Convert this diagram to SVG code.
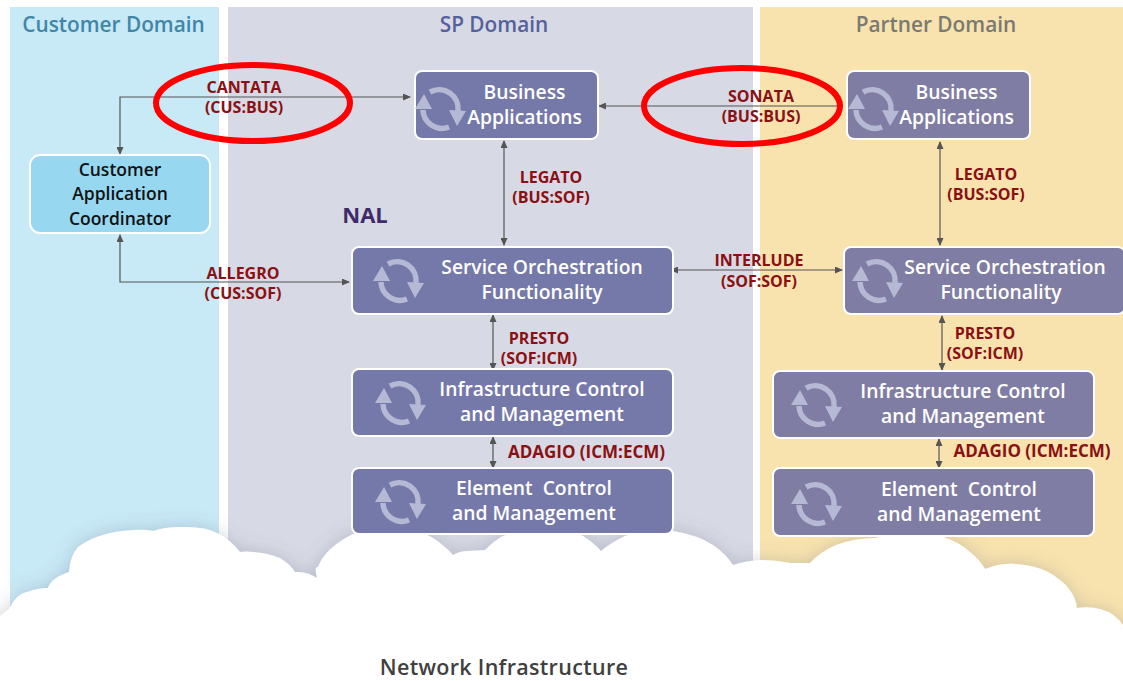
<svg xmlns="http://www.w3.org/2000/svg" width="1123" height="681" viewBox="0 0 1123 681">
<style>
text{font-family:"Open Sans","Liberation Sans",sans-serif;text-anchor:middle}
.dom{font-size:20.800px;font-weight:600}
.nt{font-size:19.300px;font-weight:600;fill:#fff}
.ct{font-size:17.500px;font-weight:600;fill:#111}
.lb{font-size:16px;font-weight:700;fill:#8a1014}
.ad{font-size:17px}
.n{fill:#7579a9;stroke:#fff;stroke-width:2}
.p{fill:#7f7da3;stroke:#fff;stroke-width:2}
.cn{fill:none;stroke:#555;stroke-width:1.200}
.red{fill:none;stroke:#f00;stroke-width:6}
</style>
<defs>
<marker id="a" markerWidth="8" markerHeight="7" refX="7" refY="3.500" orient="auto-start-reverse" markerUnits="userSpaceOnUse"><path d="M0 0L8 3.500L0 7Z" fill="#555"/></marker>
<symbol id="ic" overflow="visible">
<g fill="none" stroke="#b6b9d4" stroke-width="5.500"><path d="M-10 -16A19 19 0 0 1 18 3"/><path d="M9 19A19 19 0 0 1 -17 2"/></g>
<path d="M-16 -14L-25 1L-8 1ZM17 18L9 2L26 3Z" fill="#b6b9d4"/>
</symbol>
<filter id="sh" x="-5%" y="-20%" width="110%" height="130%"><feDropShadow dx="0" dy="0" stdDeviation="9" flood-color="#5d6480" flood-opacity=".28"/></filter>
</defs>
<rect width="1123" height="681" fill="#fff"/>
<g id="panels">
<rect x="10" y="7" width="209" height="615" fill="#c8e9f6"/>
<rect x="228" y="7" width="525" height="615" fill="#d7dae4"/>
<rect x="760" y="7" width="363" height="625" fill="#f8e3ae"/>
<text class="dom" x="113.500" y="32" fill="#3f86a8">Customer Domain</text>
<text class="dom" x="494" y="32" fill="#55609c">SP Domain</text>
<text class="dom" x="936" y="32" fill="#7a7a72">Partner Domain</text>
<text x="365" y="223" font-size="22" font-weight="700" style="fill:#3f2a6b">NAL</text>
</g>
<g id="cloud">
<path filter="url(#sh)" fill="#fff" d="M-12 681V625L9 609Q16 594 27 592Q38 588 48 588Q51 578 69 572Q70 556 78 547Q98 532 133 530Q145 529 153 531Q165 527 180 527Q205 526 217 533Q231 540 240 552Q247 551 253 552Q268 553 280 558Q290 564 295 572Q307 571 317 578Q314 566 318 567Q325 548 353 534Q365 528 380 528Q420 526 440 543Q449 550 453 555Q460 551 467 551L485 550Q495 540 503 536Q520 528 544 528Q568 528 583 536Q594 543 601 551Q612 542 625 536Q648 527 673 531Q698 535 713 545Q727 555 733 565Q745 561 760 560Q776 560 790 563L810 563Q820 552 836 545Q855 538 876 538Q888 534 900 535L940 536Q958 541 970 552Q980 560 985 569Q1000 563 1016 564Q1042 566 1056 577Q1075 590 1077 608Q1090 606 1100 609Q1115 613 1123 625L1140 640V681Z"/>
</g>
<g id="connectors">
<path class="cn" d="M410 97H120V154" marker-start="url(#a)" marker-end="url(#a)"/>
<path class="cn" d="M838 106H599" marker-end="url(#a)"/>
<path class="cn" d="M504 141V245" marker-start="url(#a)" marker-end="url(#a)"/>
<path class="cn" d="M940 142V245" marker-start="url(#a)" marker-end="url(#a)"/>
<path class="cn" d="M120 235V282H349" marker-start="url(#a)" marker-end="url(#a)"/>
<path class="cn" d="M671 270H842" marker-start="url(#a)" marker-end="url(#a)"/>
<path class="cn" d="M493 315V370" marker-start="url(#a)" marker-end="url(#a)"/>
<path class="cn" d="M942 316V370" marker-start="url(#a)" marker-end="url(#a)"/>
<path class="cn" d="M493 437V468" marker-start="url(#a)" marker-end="url(#a)"/>
<path class="cn" d="M939 439V468" marker-start="url(#a)" marker-end="url(#a)"/>
</g>
<g id="cac"><rect x="30" y="155" width="180" height="78" rx="10" fill="#97d7f0" stroke="#fff" stroke-width="2"/>
<text class="ct" x="120" y="176">Customer</text><text class="ct" x="120" y="200">Application</text><text class="ct" x="120" y="225">Coordinator</text></g>
<g id="sp-bus"><rect class="n" x="415" y="71" width="183" height="68" rx="7"/><use href="#ic" x="440" y="108"/>
<text class="nt" x="524.500" y="99">Business</text><text class="nt" x="524.500" y="124">Applications</text></g>
<g id="pt-bus"><rect class="p" x="847" y="71" width="183" height="68" rx="7"/><use href="#ic" x="873" y="108"/>
<text class="nt" x="956.500" y="99">Business</text><text class="nt" x="956.500" y="124">Applications</text></g>
<g id="sp-sof"><rect class="n" x="352" y="247" width="321" height="67" rx="7"/><use href="#ic" x="398" y="280"/>
<text class="nt" x="542" y="274">Service Orchestration</text><text class="nt" x="542" y="299">Functionality</text></g>
<g id="pt-sof"><rect class="p" x="844" y="247" width="281" height="67" rx="7"/><use href="#ic" x="877" y="280"/>
<text class="nt" x="1005" y="274">Service Orchestration</text><text class="nt" x="1001" y="299">Functionality</text></g>
<g id="sp-icm"><rect class="n" x="352" y="369" width="321" height="67" rx="7"/><use href="#ic" x="400" y="402"/>
<text class="nt" x="542" y="396">Infrastructure Control</text><text class="nt" x="542" y="421">and Management</text></g>
<g id="pt-icm"><rect class="p" x="773" y="371" width="321" height="67" rx="7"/><use href="#ic" x="816" y="404"/>
<text class="nt" x="963" y="398">Infrastructure Control</text><text class="nt" x="963" y="423">and Management</text></g>
<g id="sp-ecm"><rect class="n" x="352" y="468" width="321" height="66" rx="7"/><use href="#ic" x="400" y="501"/>
<text class="nt" x="534" y="495" xml:space="preserve">Element  Control</text><text class="nt" x="534" y="520">and Management</text></g>
<g id="pt-ecm"><rect class="p" x="773" y="468" width="321" height="68" rx="7"/><use href="#ic" x="816" y="503"/>
<text class="nt" x="959" y="496" xml:space="preserve">Element  Control</text><text class="nt" x="959" y="521">and Management</text></g>
<g id="labels">
<text class="lb" x="244" y="93">CANTATA</text><text class="lb" x="244" y="113">(CUS:BUS)</text>
<text class="lb" x="243" y="279">ALLEGRO</text><text class="lb" x="243" y="299">(CUS:SOF)</text>
<text class="lb" x="761" y="102">SONATA</text><text class="lb" x="761" y="122">(BUS:BUS)</text>
<text class="lb" x="551" y="183">LEGATO</text><text class="lb" x="551" y="203">(BUS:SOF)</text>
<text class="lb" x="986" y="180">LEGATO</text><text class="lb" x="986" y="200">(BUS:SOF)</text>
<text class="lb" x="759" y="266">INTERLUDE</text><text class="lb" x="759" y="287">(SOF:SOF)</text>
<text class="lb" x="539" y="344">PRESTO</text><text class="lb" x="539" y="364">(SOF:ICM)</text>
<text class="lb" x="985" y="339">PRESTO</text><text class="lb" x="985" y="359">(SOF:ICM)</text>
<text class="lb ad" x="586.500" y="458">ADAGIO (ICM:ECM)</text><text class="lb ad" x="1032" y="457">ADAGIO (ICM:ECM)</text>
</g>
<g id="highlights"><ellipse class="red" cx="253" cy="103" rx="97" ry="38"/><ellipse class="red" cx="742" cy="106" rx="98" ry="38"/></g>
<text id="network" x="504" y="675" font-size="21.500" font-weight="600" letter-spacing=".3" style="fill:#404040">Network Infrastructure</text>
</svg>
